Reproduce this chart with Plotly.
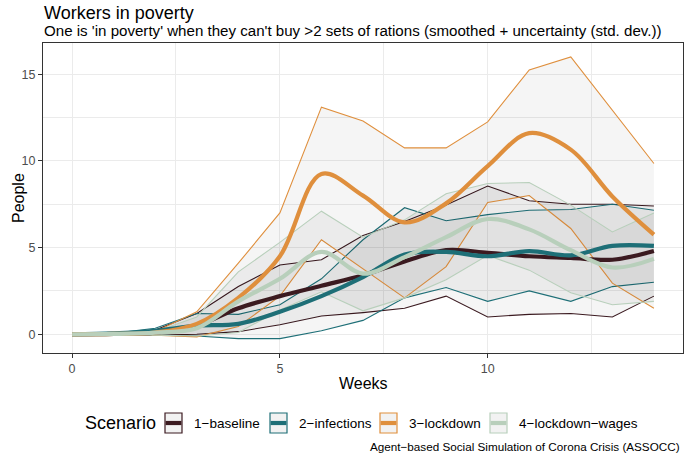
import plotly.graph_objects as go

# ---------------- data ----------------
weeks = list(range(15))
scenarios = ["1−baseline", "2−infections", "3−lockdown", "4−lockdown−wages"]

baseline_upper = [0, 0.05, 0.25, 1.2, 2.75, 4.0, 4.3, 5.7, 6.5, 7.45, 8.55, 7.7, 7.5, 7.5, 7.4]
baseline_lower = [0, 0.0, -0.05, 0.0, 0.15, 0.55, 1.05, 1.25, 1.5, 2.2, 1.0, 1.15, 1.2, 1.0, 2.2]
baseline_smooth = [0, 0.02, 0.1, 0.5, 1.5, 2.2, 2.8, 3.4, 4.2, 4.85, 4.7, 4.5, 4.4, 4.3, 4.8]

infections_upper = [0, 0.05, 0.35, 1.2, 1.15, 1.7, 3.2, 5.45, 7.3, 6.55, 6.9, 7.15, 7.2, 7.5, 7.15]
infections_lower = [0, -0.05, -0.05, -0.1, -0.25, -0.25, 0.2, 0.8, 2.1, 2.7, 1.9, 2.5, 1.9, 2.75, 3.0]
infections_smooth = [0, 0.05, 0.2, 0.5, 0.6, 1.3, 2.2, 3.3, 4.6, 4.75, 4.5, 4.8, 4.55, 5.1, 5.1]

lockdown_upper = [0, 0.05, 0.15, 1.3, 4.1, 7.0, 13.1, 12.3, 10.75, 10.75, 12.25, 15.25, 16.0, 12.9, 9.85]
lockdown_lower = [0, 0.0, -0.05, -0.15, 0.45, 2.2, 5.45, 3.8, 2.1, 3.9, 7.6, 8.0, 6.1, 2.95, 1.5]
lockdown_smooth = [0, 0.02, 0.1, 0.6, 2.1, 4.5, 9.25, 8.0, 6.45, 7.55, 9.7, 11.6, 10.65, 7.95, 5.75]

wages_upper = [0, 0.05, 0.15, 1.0, 3.6, 5.3, 7.1, 5.6, 6.6, 8.1, 8.7, 8.75, 7.45, 5.9, 7.0]
wages_lower = [0, 0.0, -0.05, -0.1, 0.1, 1.4, 2.45, 1.35, 2.1, 3.15, 4.55, 3.7, 2.4, 1.7, 1.9]
wages_smooth = [0, 0.02, 0.1, 0.35, 1.9, 3.2, 4.75, 3.5, 4.45, 5.6, 6.65, 6.05, 4.85, 3.85, 4.35]

x_ticks = [0, 5, 10]
y_ticks = [0, 5, 10, 15]

# ---------------- styling ----------------
colors = ["#3B1A20", "#1E6F77", "#DF8F3D", "#B8CFBB"]
FONT = "Liberation Sans, Arial, sans-serif"
RIBBON_FILL = "rgba(0,0,0,0.04)"

uppers = [baseline_upper, infections_upper, lockdown_upper, wages_upper]
lowers = [baseline_lower, infections_lower, lockdown_lower, wages_lower]
smooths = [baseline_smooth, infections_smooth, lockdown_smooth, wages_smooth]

fig = go.Figure()

# ribbons (mean +/- sd) with thin coloured borders
for name, col, lo, up in zip(scenarios, colors, lowers, uppers):
    fig.add_trace(go.Scatter(x=weeks, y=lo, mode="lines", line=dict(color=col, width=1.1),
                             showlegend=False, hoverinfo="skip", name=name))
    fig.add_trace(go.Scatter(x=weeks, y=up, mode="lines", line=dict(color=col, width=1.1),
                             fill="tonexty", fillcolor=RIBBON_FILL,
                             showlegend=False, hoverinfo="skip", name=name))

# smoothed lines
for name, col, sm in zip(scenarios, colors, smooths):
    fig.add_trace(go.Scatter(x=weeks, y=sm, mode="lines",
                             line=dict(color=col, width=4.2, shape="spline", smoothing=1.0),
                             showlegend=False, name=name))

# ---------------- layout ----------------
L, R, T, B = 43, 2, 43, 101
W, H = 685, 454
pw, ph = W - L - R, H - T - B


def px(xp):
    return (xp - L) / pw


def py(yp):
    return (H - B - yp) / ph


axis_common = dict(
    showgrid=True, gridcolor="#EBEBEB", gridwidth=1.1,
    zeroline=False, showline=True, linecolor="#333333", linewidth=1.1, mirror=True,
    ticks="outside", ticklen=4, tickcolor="#333333", tickwidth=1.1,
    tickfont=dict(family=FONT, size=12.5, color="#4D4D4D"),
)

fig.update_layout(
    width=W, height=H,
    margin=dict(l=L, r=R, t=T, b=B, autoexpand=False),
    paper_bgcolor="white", plot_bgcolor="white",
    showlegend=False,
    xaxis=dict(range=[-0.7, 14.7], tickvals=x_ticks, ticktext=[str(v) for v in x_ticks],
               minor=dict(tickvals=[2.5, 7.5, 12.5], showgrid=True, gridcolor="#EBEBEB", gridwidth=0.6),
               **axis_common),
    yaxis=dict(range=[-1.08, 16.8], tickvals=y_ticks, ticktext=[str(v) for v in y_ticks],
               minor=dict(tickvals=[2.5, 7.5, 12.5], showgrid=True, gridcolor="#EBEBEB", gridwidth=0.6),
               **axis_common),
)

annotations = [
    dict(text="Workers in poverty", x=px(42), y=py(13), xanchor="left", yanchor="middle",
         font=dict(family=FONT, size=18, color="black")),
    dict(text="One is 'in poverty' when they can't buy >2 sets of rations (smoothed + uncertainty (std. dev.))",
         x=px(42), y=py(31), xanchor="left", yanchor="middle",
         font=dict(family=FONT, size=15.1, color="black")),
    dict(text="People", x=px(18), y=py(198), textangle=-90, xanchor="center", yanchor="middle",
         font=dict(family=FONT, size=16, color="black")),
    dict(text="Weeks", x=px(363), y=py(383), xanchor="center", yanchor="middle",
         font=dict(family=FONT, size=16, color="black")),
    dict(text="Scenario", x=px(83), y=py(423), xanchor="left", yanchor="middle",
         font=dict(family=FONT, size=18, color="black")),
    dict(text="Agent−based Social Simulation of Corona Crisis (ASSOCC)", x=px(682), y=py(446),
         xanchor="right", yanchor="middle", font=dict(family=FONT, size=11.7, color="black")),
]

# manual legend keys (box with ribbon fill + thick line), like ggplot
key_left = [165, 270, 380, 490]
shapes = []
for name, col, kx in zip(scenarios, colors, key_left):
    shapes.append(dict(type="rect", xref="paper", yref="paper",
                       x0=px(kx), x1=px(kx + 17), y0=py(433), y1=py(413),
                       line=dict(color=col, width=1.2), fillcolor="#F2F2F2", layer="above"))
    shapes.append(dict(type="line", xref="paper", yref="paper",
                       x0=px(kx + 0.6), x1=px(kx + 16.4), y0=py(423), y1=py(423),
                       line=dict(color=col, width=4.2), layer="above"))
    annotations.append(dict(text=name, x=px(kx + 27), y=py(423), xanchor="left", yanchor="middle",
                            font=dict(family=FONT, size=13.5, color="black")))

fig.update_layout(annotations=[dict(a, xref="paper", yref="paper", showarrow=False) for a in annotations],
                  shapes=shapes)

# remove the browser's default 8px body margin so the figure sits at the window origin
fig.write_html("out.html", config={"displayModeBar": False},
               post_script="document.body.style.margin='0px';document.body.style.overflow='hidden';")
